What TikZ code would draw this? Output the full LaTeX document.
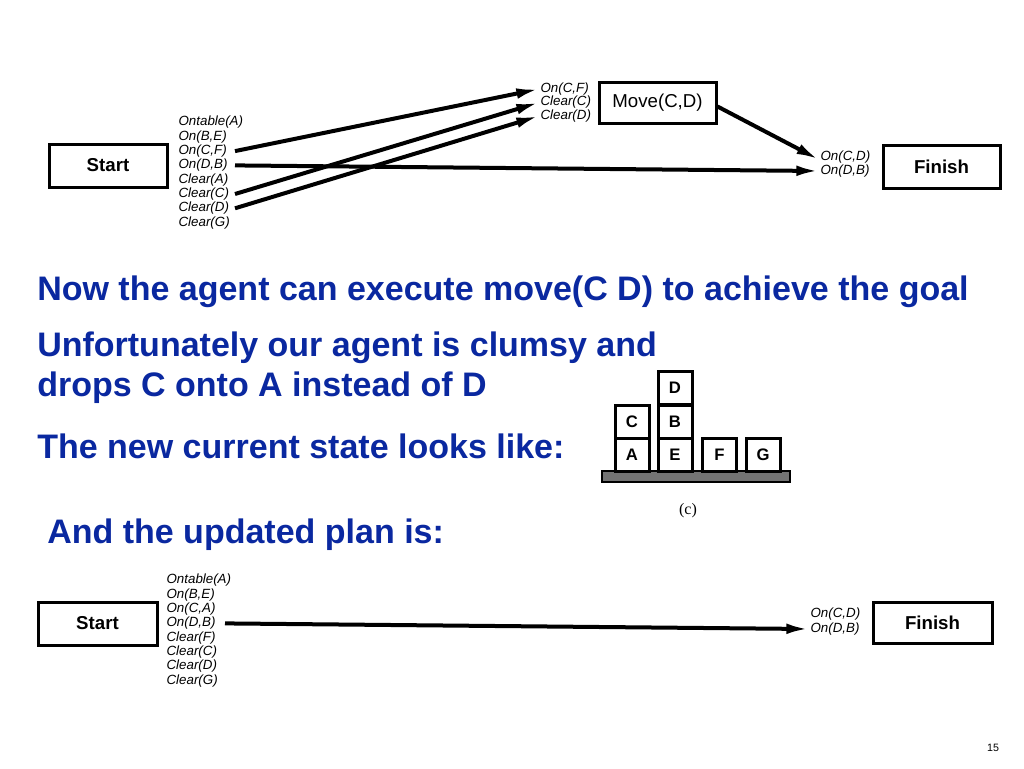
\documentclass[tikz,border=0pt]{standalone}
\usepackage{fontspec}
\setmainfont{Liberation Sans}
\newfontfamily\serifc{Liberation Serif}
\usetikzlibrary{arrows.meta}
\definecolor{slideblue}{RGB}{10,40,160}
\begin{document}
\begin{tikzpicture}[x=0.75pt,y=-0.75pt,
  box/.style={draw,line width=2.25pt,inner sep=0pt,font=\fontsize{14}{16}\selectfont\bfseries},
  lbl/.style={anchor=west,inner sep=1pt,font=\fontsize{10}{11}\selectfont\itshape},
  slbl/.style={anchor=west,inner sep=1pt,font=\fontsize{10}{10}\selectfont\itshape},
  arr/.style={line width=3pt,-{Latex[length=17pt,width=8pt]}},
  say/.style={anchor=base west,inner sep=0pt,text=slideblue,font=\fontsize{25.5}{28}\selectfont\bfseries},
  blk/.style={draw,line width=2.25pt,minimum width=25.5pt,minimum height=24.75pt,inner sep=0pt,font=\fontsize{12.5}{14}\selectfont\bfseries}]
\path[use as bounding box,fill=white] (0,0) rectangle (1024,768);

% ---------- top plan ----------
\node[box,minimum width=88.5pt,minimum height=32.25pt] (st) at (108,165.5) {Start};
\node[lbl] (s1) at (177,122.5) {Ontable(A)};
\node[lbl] (s2) at (177,136.8) {On(B,E)};
\node[lbl] (s3) at (177,151.1) {On(C,F)};
\node[lbl] (s4) at (177,165.4) {On(D,B)};
\node[lbl] (s5) at (177,179.7) {Clear(A)};
\node[lbl] (s6) at (177,194) {Clear(C)};
\node[lbl] (s7) at (177,208.3) {Clear(D)};
\node[lbl] (s8) at (177,222.6) {Clear(G)};
\coordinate (sx) at (235,0);

\node[box,font=\fontsize{14}{16}\selectfont,minimum width=87.75pt,minimum height=30.75pt] (mv) at (657.5,102.5) {Move(C,D)};
\node[slbl] (m1) at (539,89) {On(C,F)};
\node[slbl] (m2) at (539,102.5) {Clear(C)};
\node[slbl] (m3) at (539,116) {Clear(D)};

\node[box,minimum width=87.75pt,minimum height=32.25pt] (fi) at (941.5,166.5) {Finish};
\node[lbl] (f1) at (819,157) {On(C,D)};
\node[lbl] (f2) at (819,171) {On(D,B)};

\draw[arr] (s3.east -| sx) -- (m1.west);
\draw[arr] (s6.east -| sx) -- (m2.west);
\draw[arr] (s7.east -| sx) -- (m3.west);
\draw[arr] (s4.east -| sx) -- (f2.west);
\draw[arr] ([yshift=-3pt]mv.east) -- ([yshift=-2pt]f1.west);

% ---------- text ----------
\node[say] (t1) at (37,300) {Now the agent can execute move(C D) to achieve the goal};
\node[say] (t2) at (37,356) {Unfortunately our agent is clumsy and};
\node[say] (t3) at (37,396) {drops C onto A instead of D};
\node[say] (t4) at (37,458) {The new current state looks like:};
\node[say] (t5) at (47,543) {And the updated plan is:};

% ---------- blocks ----------
\draw[fill=black!55,line width=1.5pt] (602,471) rectangle (790,482);
\node[blk] (bA) at (632,455) {A};
\node[blk] (bC) at (632,421.5) {C};
\node[blk] (bE) at (675,455) {E};
\node[blk] (bB) at (675,421.5) {B};
\node[blk] (bD) at (675,387.5) {D};
\node[blk] (bF) at (719.5,455) {F};
\node[blk] (bG) at (763,455) {G};
\node[font=\serifc\fontsize{12}{14}\selectfont] (cap) at (688,511) {(c)};

% ---------- bottom plan ----------
\node[box,minimum width=89.25pt,minimum height=32.25pt] (st2) at (97.5,623.5) {Start};
\node[lbl] (b1) at (165,580.5) {Ontable(A)};
\node[lbl] (b2) at (165,594.8) {On(B,E)};
\node[lbl] (b3) at (165,609.1) {On(C,A)};
\node[lbl] (b4) at (165,623.4) {On(D,B)};
\node[lbl] (b5) at (165,637.7) {Clear(F)};
\node[lbl] (b6) at (165,652) {Clear(C)};
\node[lbl] (b7) at (165,666.3) {Clear(D)};
\node[lbl] (b8) at (165,680.6) {Clear(G)};
\coordinate (bx) at (225,0);

\node[box,minimum width=89.25pt,minimum height=30.75pt] (fi2) at (932.5,622.5) {Finish};
\node[lbl] (g1) at (809,614) {On(C,D)};
\node[lbl] (g2) at (809,629) {On(D,B)};
\draw[arr] (b4.east -| bx) -- (g2.west);

\node[font=\fontsize{8}{9}\selectfont] (pg) at (993,748) {15};
\end{tikzpicture}
\end{document}
